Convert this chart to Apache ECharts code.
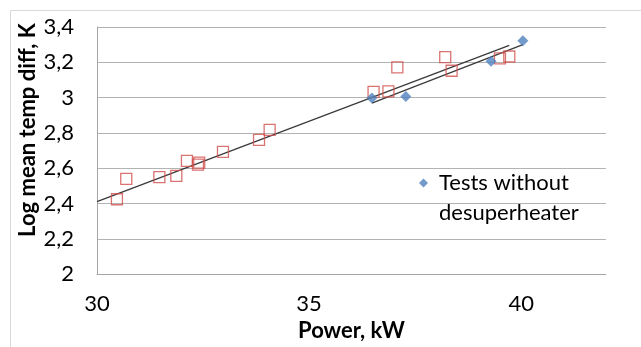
<!DOCTYPE html>
<html>
<head>
<meta charset="utf-8">
<script src="https://cdn.jsdelivr.net/npm/echarts@6/dist/echarts.min.js"></script>
<style>
html,body{margin:0;padding:0;background:#fff;}
#chart{width:641px;height:347px;}
</style>
</head>
<body>
<div id="chart"></div>
<script>
// Tests with desuperheater (hollow red squares)
const redX = [30.47, 30.69, 31.47, 31.87, 32.12, 32.38, 32.41, 32.97, 33.82, 34.07, 36.52, 36.87, 37.08, 38.21, 38.36, 39.50, 39.72];
const redY = [2.424, 2.539, 2.550, 2.556, 2.641, 2.620, 2.632, 2.693, 2.760, 2.817, 3.032, 3.035, 3.171, 3.229, 3.152, 3.222, 3.233];
// Tests without desuperheater (blue diamonds)
const blueX = [36.48, 37.28, 39.29, 40.04];
const blueY = [2.998, 3.006, 3.206, 3.322];
// Trend lines (end points)
const trendRedX = [30.0, 39.72];
const trendRedY = [2.411, 3.296];
const trendBlueX = [36.48, 40.04];
const trendBlueY = [2.969, 3.300];
// Axes
const xMin = 30, xMax = 42, xStep = 5;
const yMin = 2, yMax = 3.4, yStep = 0.2;
const blueName = 'Tests without\ndesuperheater';
const xTitle = 'Power, kW';
const yTitle = 'Log mean temp diff, K';

const zip = (a, b) => a.map((v, i) => [v, b[i]]);
const FONT = 'Lato';

const chart = echarts.init(document.getElementById('chart'), null, {renderer: 'canvas'});
chart.setOption({
  animation: false,
  backgroundColor: '#ffffff',
  textStyle: {fontFamily: FONT},
  grid: {left: 97, right: 35, top: 27, bottom: 68, containLabel: false},
  graphic: [
    {type: 'rect', z: -10, silent: true,
     shape: {x: 10.5, y: 10.5, width: 700, height: 400},
     style: {fill: 'none', stroke: '#d9d9d9', lineWidth: 1}},
    {type: 'text', silent: true, x: 28, y: 130, rotation: Math.PI / 2,
     style: {text: yTitle, fontFamily: FONT, fontSize: 22, fontWeight: 'bold', fill: '#000',
             align: 'center', verticalAlign: 'middle'}}
  ],
  legend: {
    data: [blueName], left: 419, top: 138, padding: 0,
    itemWidth: 9, itemHeight: 9, icon: 'diamond',
    formatter: name => name.split('\n').map(s => '{a|' + s + '}').join('\n'),
    textStyle: {fontFamily: FONT, fontSize: 22, color: '#000', lineHeight: 30, padding: [30, 0, 0, 6],
      rich: {a: {fontFamily: FONT, fontSize: 22, color: '#000', lineHeight: 30}}}
  },
  xAxis: {
    type: 'value', min: xMin, max: xMax, interval: xStep,
    name: xTitle, nameLocation: 'middle', nameGap: 41,
    nameTextStyle: {fontFamily: FONT, fontSize: 22, fontWeight: 'bold', color: '#000'},
    axisLine: {show: true, lineStyle: {color: '#a6a6a6', width: 1}},
    axisTick: {show: false},
    splitLine: {show: false},
    axisLabel: {fontFamily: FONT, fontSize: 22, color: '#000', margin: 19,
      formatter: v => (Math.abs(v % xStep) < 1e-9 ? String(v) : '')}
  },
  yAxis: {
    type: 'value', min: yMin, max: yMax, interval: yStep,
    axisLine: {show: true, lineStyle: {color: '#a6a6a6', width: 1}},
    axisTick: {show: false},
    splitLine: {show: true, lineStyle: {color: '#b3b3b3', width: 1}},
    axisLabel: {fontFamily: FONT, fontSize: 22, color: '#000', margin: 23,
      formatter: v => String(+v.toFixed(1)).replace('.', ',')}
  },
  series: [
    {type: 'line', name: 'trendRed', data: zip(trendRedX, trendRedY), symbol: 'none', silent: true,
     lineStyle: {color: '#3a3a3a', width: 1.3}, z: 2},
    {type: 'line', name: 'trendBlue', data: zip(trendBlueX, trendBlueY), symbol: 'none', silent: true,
     lineStyle: {color: '#3a3a3a', width: 1.3}, z: 2},
    {type: 'scatter', name: 'Tests with desuperheater', data: zip(redX, redY), symbol: 'rect', symbolSize: 11,
     itemStyle: {color: 'rgba(0,0,0,0)', borderColor: '#d0504d', borderWidth: 1.3}, z: 3},
    {type: 'scatter', name: blueName, data: zip(blueX, blueY), symbol: 'diamond', symbolSize: 11,
     itemStyle: {color: '#4f81bd'}, z: 4}
  ]
});
</script>
</body>
</html>
